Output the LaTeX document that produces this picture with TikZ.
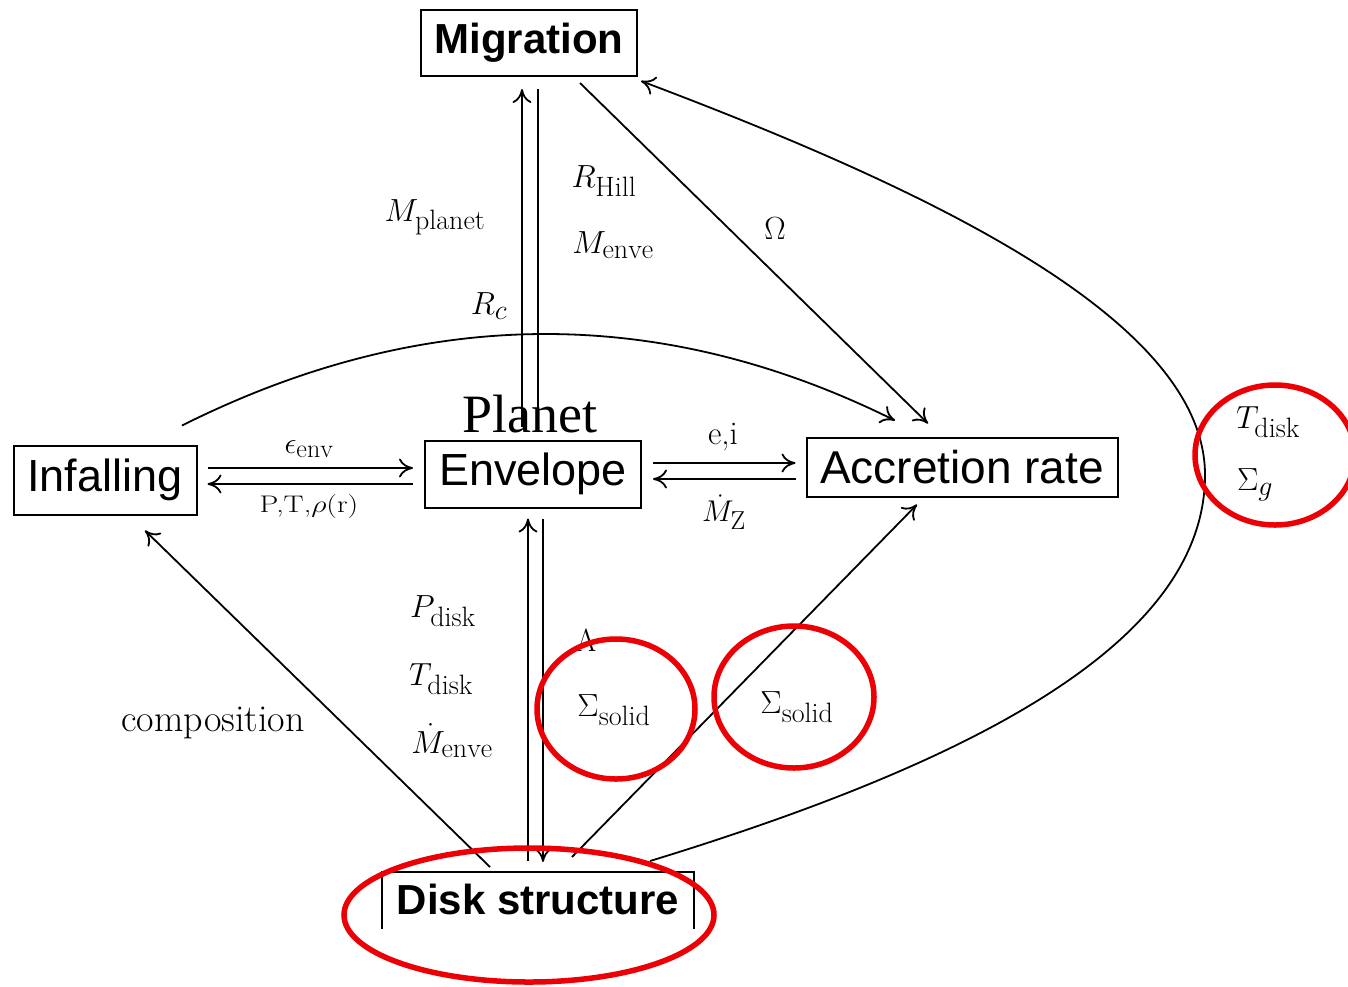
\RequirePackage{fix-cm}
\documentclass[tikz,border=0pt]{standalone}
\usepackage{graphicx}
\usepackage{fontspec}
\newfontfamily\boxfont{Liberation Sans}
\newfontfamily\planetfont{Liberation Serif}
\usetikzlibrary{arrows.meta}
\definecolor{mark}{RGB}{236,0,6}
\DeclareMathSizes{32}{32}{28}{20}
\DeclareMathSizes{30}{30}{26}{18}
\DeclareMathSizes{24}{24}{19}{14}

\begin{document}
\begin{tikzpicture}[x=1pt,y=-1pt,line width=1.8pt,
  arr/.style={-{Computer Modern Rightarrow[length=14pt,width=19pt,line width=1.8pt]}},
  block/.style={draw,line width=2pt,inner sep=0pt,font=\boxfont\fontsize{45}{54}\selectfont},
  boldblock/.style={block,font=\boxfont\bfseries\fontsize{42}{50}\selectfont},
  qty/.style={inner sep=0pt,font=\fontsize{32}{38}\selectfont},
  midqty/.style={inner sep=0pt,font=\fontsize{30}{36}\selectfont},
  ring/.style={draw=mark,line width=5.5pt}]

\clip (0,0) rectangle (1348,986);
\fill[white] (0,0) rectangle (1348,986);

% boxes
\node[boldblock,minimum width=216pt,minimum height=66pt] (mig) at (529,43) {Migration};
\node[block,minimum width=183pt,minimum height=69pt] (inf) at (105,480) {Infalling};
\node[block,minimum width=216pt,minimum height=67pt] (env) at (533,474) {Envelope};
\node[block,font=\boxfont\fontsize{46}{54}\selectfont,minimum width=311pt,minimum height=59pt] (acc) at (962,467) {Accretion rate};
\node[boldblock,draw=none,minimum width=310pt,minimum height=55pt,text depth=2pt] (disk) at (538,900.5) {Disk structure};
\draw[line width=2pt] (disk.south west) -- (disk.north west) -- (disk.north east) -- (disk.south east);

% planet heading
\node[inner sep=0pt,font=\planetfont\fontsize{54}{62}\selectfont] (planet) at (530,414) {Planet};

% migration <-> envelope
\draw[arr] ([xshift=-11pt,yshift=13pt]env.north) -- ([xshift=-7pt,yshift=-12pt]mig.south);
\draw ([xshift=9pt,yshift=-12pt]mig.south) -- ([xshift=5pt,yshift=13pt]env.north);

% migration -> accretion rate
\draw[arr] ([xshift=51pt,yshift=-6pt]mig.south) -- ([xshift=-34pt,yshift=13pt]acc.north);

% infalling -> accretion rate (R_c)
\draw[arr] ([xshift=77pt,yshift=19pt]inf.north) .. controls (423,305) and (660,304) .. ([xshift=-67pt,yshift=16pt]acc.north);

% infalling <-> envelope
\draw[arr] ([xshift=10pt,yshift=12pt]inf.east) -- ([xshift=-11pt,yshift=6pt]env.west);
\draw[arr] ([xshift=-11pt,yshift=-10pt]env.west) -- ([xshift=10pt,yshift=-4pt]inf.east);

% envelope <-> accretion rate
\draw[arr] ([xshift=11pt,yshift=11pt]env.east) -- ([xshift=-10pt,yshift=4pt]acc.west);
\draw[arr] ([xshift=-10pt,yshift=-12pt]acc.west) -- ([xshift=11pt,yshift=-5pt]env.east);

% disk structure <-> envelope
\draw[arr] ([xshift=-10pt,yshift=11pt]disk.north) -- ([xshift=-5pt,yshift=-10pt]env.south);
\draw[arr] ([xshift=10pt,yshift=-10pt]env.south) -- ([xshift=5pt,yshift=10pt]disk.north);

% disk structure -> infalling, accretion rate
\draw[arr] ([xshift=-48pt,yshift=5pt]disk.north) -- ([xshift=40pt,yshift=-15pt]inf.south);
\draw[arr] ([xshift=34pt,yshift=15pt]disk.north) -- ([xshift=-45pt,yshift=-7pt]acc.south);

% disk structure -> migration
\coordinate (bend) at (1205,475);
\draw[arr] ([xshift=112pt,yshift=11pt]disk.north) .. controls (980,760) and (1205,640) .. (bend)
  .. controls (1205,320) and (930,190) .. ([xshift=3pt,yshift=-4pt]mig.south east);

% quantities
\node[qty] (mplanet) at (435,217) {$M_{\mathrm{planet}}$};
\node[qty] (rhill) at (604,181) {$R_{\mathrm{Hill}}$};
\node[qty] (menve) at (613,245) {$M_{\mathrm{enve}}$};
\node[qty] (omega) at (775,229) {$\Omega$};
\node[qty] (rc) at (489,306) {$R_c$};
\node[midqty] (eps) at (309,449) {$\epsilon_{\mathrm{env}}$};
\node[inner sep=0pt,font=\fontsize{24}{30}\selectfont] (ptr) at (309,506) {\scalebox{1.25}[1]{P,T,$\rho$(r)}};
\node[inner sep=0pt,font=\fontsize{33}{38}\selectfont] (ei) at (723,437) {e,i};
\node[midqty] (mz) at (724,512) {$\dot M_{\mathrm{Z}}$};
\node[qty] (pdisk) at (443,611) {$P_{\mathrm{disk}}$};
\node[qty] (tdisk) at (441,679) {$T_{\mathrm{disk}}$};
\node[qty] (mdot) at (452,741) {$\dot M_{\mathrm{enve}}$};
\node[qty] (lam) at (586,641) {$\Lambda$};
\node[qty] (sol1) at (614,710) {$\Sigma_{\mathrm{solid}}$};
\node[qty] (sol2) at (797,707) {$\Sigma_{\mathrm{solid}}$};
\node[inner sep=0pt,font=\fontsize{38}{44}\selectfont] (comp) at (213,723) {composition};
\node[qty] (tdisk2) at (1268,422) {$T_{\mathrm{disk}}$};
\node[qty] (sigg) at (1255,485) {$\Sigma_g$};

% red rings
\draw[ring] (616,709) ellipse [x radius=79pt,y radius=70pt];
\draw[ring] (794,697) ellipse [x radius=80pt,y radius=71pt];
\draw[ring] (1275,455) ellipse [x radius=80pt,y radius=70pt];
\draw[ring] (529,915) ellipse [x radius=185pt,y radius=67pt];
\end{tikzpicture}
\end{document}
